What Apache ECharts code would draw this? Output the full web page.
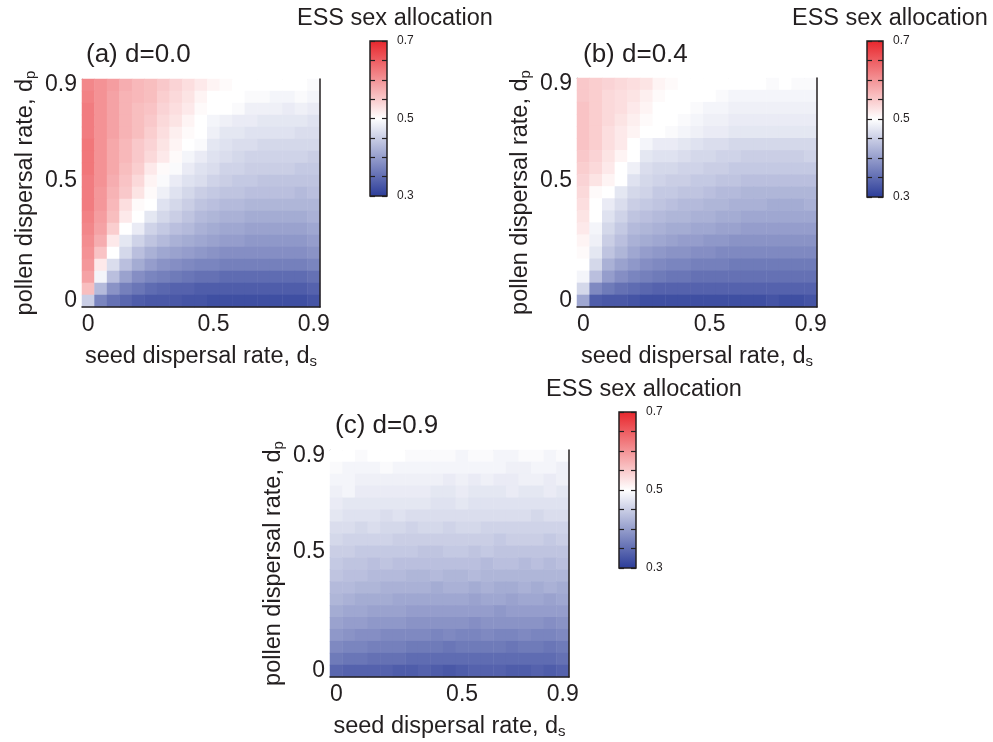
<!DOCTYPE html>
<html>
<head>
<meta charset="utf-8">
<title>ESS sex allocation</title>
<script src="https://cdn.jsdelivr.net/npm/echarts@6/dist/echarts.min.js"></script>
<style>
  html, body { margin: 0; padding: 0; background: #fff; }
  #chart { width: 993px; height: 742px; }
</style>
</head>
<body>
<div id="chart"></div>
<script>
// dispersal rates on both axes (seed ds on x, pollen dp on y)
var rates = ['0', '0.05', '0.1', '0.15', '0.2', '0.25', '0.3', '0.35', '0.4', '0.45',
             '0.5', '0.55', '0.6', '0.65', '0.7', '0.75', '0.8', '0.85', '0.9'];
var tickLabels = ['0', '0.5', '0.9'];
var barLabels = ['0.3', '0.5', '0.7'];
var panelTitles = ['(a) d=0.0', '(b) d=0.4', '(c) d=0.9'];

// ESS sex allocation; rows go from dp=0.9 (top) down to dp=0
var essD00 = [
  [0.61,0.60,0.59,0.575,0.565,0.56,0.55,0.54,0.53,0.52,0.51,0.505,0.50,0.50,0.50,0.50,0.50,0.50,0.495],
  [0.615,0.60,0.585,0.57,0.565,0.56,0.545,0.535,0.525,0.51,0.50,0.50,0.50,0.495,0.495,0.49,0.49,0.495,0.49],
  [0.62,0.60,0.585,0.57,0.56,0.555,0.54,0.53,0.52,0.505,0.50,0.50,0.495,0.485,0.485,0.485,0.48,0.485,0.48],
  [0.62,0.60,0.585,0.57,0.56,0.55,0.535,0.525,0.51,0.50,0.49,0.485,0.48,0.48,0.475,0.475,0.475,0.475,0.47],
  [0.62,0.60,0.585,0.57,0.56,0.545,0.53,0.515,0.505,0.50,0.485,0.475,0.475,0.47,0.47,0.47,0.47,0.465,0.465],
  [0.625,0.60,0.58,0.565,0.55,0.54,0.525,0.51,0.50,0.495,0.475,0.47,0.465,0.465,0.46,0.46,0.46,0.46,0.46],
  [0.625,0.60,0.58,0.565,0.55,0.535,0.52,0.505,0.49,0.48,0.47,0.465,0.46,0.455,0.455,0.455,0.455,0.455,0.45],
  [0.625,0.60,0.58,0.56,0.545,0.52,0.505,0.495,0.48,0.47,0.465,0.455,0.455,0.45,0.45,0.45,0.45,0.445,0.445],
  [0.62,0.60,0.575,0.555,0.535,0.51,0.495,0.48,0.47,0.465,0.455,0.45,0.445,0.445,0.44,0.44,0.44,0.44,0.44],
  [0.62,0.595,0.57,0.55,0.525,0.505,0.485,0.47,0.46,0.45,0.445,0.44,0.44,0.435,0.435,0.435,0.435,0.43,0.435],
  [0.62,0.595,0.565,0.53,0.505,0.50,0.47,0.46,0.45,0.44,0.435,0.43,0.43,0.425,0.425,0.425,0.425,0.425,0.425],
  [0.615,0.59,0.56,0.52,0.50,0.475,0.46,0.45,0.44,0.43,0.425,0.42,0.42,0.415,0.415,0.415,0.415,0.415,0.42],
  [0.61,0.585,0.545,0.50,0.48,0.455,0.445,0.435,0.43,0.42,0.415,0.41,0.41,0.405,0.405,0.405,0.405,0.405,0.41],
  [0.605,0.575,0.52,0.475,0.455,0.44,0.43,0.42,0.415,0.41,0.405,0.40,0.40,0.395,0.395,0.395,0.395,0.395,0.40],
  [0.60,0.555,0.50,0.46,0.435,0.42,0.41,0.405,0.40,0.395,0.39,0.385,0.385,0.385,0.385,0.385,0.385,0.385,0.39],
  [0.595,0.52,0.465,0.435,0.415,0.40,0.39,0.385,0.38,0.375,0.375,0.37,0.37,0.37,0.37,0.37,0.37,0.37,0.375],
  [0.585,0.49,0.435,0.405,0.385,0.375,0.37,0.365,0.36,0.355,0.355,0.35,0.35,0.35,0.35,0.35,0.35,0.35,0.355],
  [0.56,0.43,0.39,0.37,0.36,0.35,0.345,0.34,0.34,0.335,0.335,0.335,0.335,0.335,0.335,0.335,0.335,0.335,0.34],
  [0.45,0.375,0.355,0.345,0.335,0.33,0.33,0.33,0.325,0.325,0.32,0.32,0.32,0.32,0.32,0.32,0.32,0.32,0.325]
];

var essD04 = [
  [0.55,0.545,0.54,0.535,0.53,0.525,0.51,0.505,0.50,0.50,0.50,0.50,0.50,0.50,0.50,0.495,0.50,0.495,0.495],
  [0.55,0.545,0.535,0.53,0.525,0.515,0.505,0.50,0.50,0.50,0.50,0.495,0.49,0.49,0.49,0.49,0.49,0.49,0.49],
  [0.555,0.545,0.535,0.53,0.52,0.51,0.50,0.50,0.50,0.495,0.49,0.49,0.485,0.485,0.485,0.485,0.485,0.485,0.485],
  [0.555,0.545,0.535,0.525,0.515,0.505,0.50,0.50,0.495,0.49,0.485,0.485,0.48,0.48,0.48,0.48,0.48,0.48,0.48],
  [0.555,0.545,0.53,0.52,0.51,0.50,0.50,0.495,0.49,0.485,0.48,0.48,0.475,0.475,0.475,0.475,0.475,0.475,0.475],
  [0.555,0.545,0.53,0.52,0.50,0.49,0.48,0.48,0.475,0.47,0.465,0.465,0.46,0.46,0.46,0.46,0.46,0.46,0.46],
  [0.55,0.54,0.525,0.51,0.50,0.475,0.47,0.47,0.465,0.46,0.46,0.455,0.455,0.45,0.45,0.45,0.45,0.45,0.455],
  [0.545,0.535,0.52,0.50,0.485,0.465,0.46,0.46,0.455,0.455,0.45,0.45,0.445,0.445,0.445,0.445,0.445,0.445,0.445],
  [0.54,0.525,0.51,0.50,0.47,0.46,0.455,0.45,0.45,0.445,0.445,0.44,0.44,0.435,0.435,0.435,0.435,0.435,0.435],
  [0.535,0.505,0.50,0.475,0.46,0.455,0.445,0.445,0.44,0.44,0.435,0.43,0.43,0.425,0.425,0.425,0.425,0.425,0.425],
  [0.53,0.50,0.48,0.465,0.45,0.445,0.44,0.435,0.43,0.43,0.425,0.425,0.42,0.42,0.42,0.415,0.415,0.415,0.42],
  [0.525,0.50,0.47,0.455,0.44,0.435,0.43,0.425,0.425,0.42,0.42,0.415,0.415,0.41,0.41,0.41,0.41,0.41,0.41],
  [0.52,0.49,0.46,0.445,0.43,0.425,0.42,0.415,0.415,0.41,0.41,0.405,0.405,0.40,0.40,0.40,0.40,0.40,0.40],
  [0.51,0.485,0.45,0.435,0.42,0.415,0.41,0.405,0.40,0.40,0.395,0.395,0.39,0.39,0.39,0.39,0.39,0.39,0.39],
  [0.505,0.475,0.44,0.425,0.41,0.40,0.395,0.39,0.39,0.385,0.385,0.38,0.38,0.38,0.38,0.38,0.38,0.38,0.38],
  [0.50,0.46,0.42,0.405,0.395,0.385,0.38,0.375,0.375,0.37,0.37,0.37,0.365,0.365,0.365,0.365,0.365,0.365,0.365],
  [0.49,0.435,0.40,0.385,0.375,0.37,0.365,0.36,0.36,0.355,0.355,0.355,0.355,0.355,0.355,0.355,0.355,0.355,0.355],
  [0.46,0.38,0.365,0.355,0.35,0.345,0.34,0.34,0.34,0.34,0.34,0.34,0.34,0.34,0.34,0.34,0.34,0.34,0.34],
  [0.41,0.335,0.33,0.33,0.325,0.32,0.32,0.32,0.32,0.32,0.32,0.32,0.32,0.32,0.32,0.325,0.32,0.32,0.325]
];

var essD09 = [
  [0.50,0.50,0.495,0.50,0.50,0.50,0.495,0.495,0.495,0.495,0.49,0.495,0.495,0.49,0.49,0.495,0.495,0.49,0.495],
  [0.495,0.49,0.49,0.49,0.495,0.49,0.49,0.49,0.49,0.49,0.49,0.49,0.49,0.49,0.485,0.485,0.49,0.49,0.485],
  [0.49,0.49,0.485,0.485,0.485,0.485,0.485,0.485,0.485,0.48,0.485,0.48,0.485,0.48,0.48,0.485,0.485,0.48,0.485],
  [0.485,0.49,0.48,0.48,0.48,0.48,0.48,0.48,0.475,0.475,0.48,0.475,0.475,0.475,0.48,0.475,0.475,0.48,0.475],
  [0.48,0.475,0.475,0.475,0.475,0.475,0.475,0.475,0.47,0.47,0.475,0.47,0.47,0.47,0.47,0.47,0.47,0.47,0.47],
  [0.475,0.47,0.47,0.47,0.465,0.47,0.465,0.465,0.465,0.465,0.465,0.465,0.465,0.465,0.465,0.465,0.46,0.465,0.465],
  [0.465,0.465,0.46,0.465,0.46,0.46,0.455,0.46,0.46,0.455,0.46,0.46,0.455,0.455,0.455,0.455,0.455,0.455,0.455],
  [0.46,0.455,0.455,0.455,0.455,0.45,0.45,0.45,0.45,0.45,0.45,0.45,0.45,0.445,0.45,0.45,0.45,0.445,0.45],
  [0.45,0.45,0.445,0.445,0.445,0.445,0.445,0.44,0.44,0.445,0.445,0.44,0.445,0.44,0.44,0.44,0.44,0.44,0.44],
  [0.445,0.44,0.44,0.435,0.44,0.435,0.435,0.435,0.435,0.435,0.435,0.435,0.43,0.435,0.435,0.43,0.435,0.43,0.435],
  [0.44,0.435,0.435,0.43,0.43,0.43,0.425,0.425,0.43,0.425,0.425,0.43,0.425,0.425,0.425,0.425,0.425,0.425,0.425],
  [0.43,0.43,0.425,0.425,0.42,0.42,0.42,0.42,0.415,0.42,0.42,0.415,0.42,0.415,0.415,0.42,0.415,0.42,0.415],
  [0.425,0.42,0.415,0.415,0.415,0.41,0.41,0.41,0.41,0.41,0.41,0.405,0.41,0.41,0.405,0.41,0.41,0.405,0.41],
  [0.415,0.41,0.41,0.405,0.405,0.405,0.40,0.40,0.40,0.40,0.40,0.40,0.40,0.395,0.40,0.40,0.40,0.40,0.40],
  [0.405,0.40,0.40,0.395,0.395,0.395,0.39,0.39,0.39,0.39,0.39,0.385,0.39,0.39,0.39,0.39,0.39,0.385,0.39],
  [0.395,0.39,0.385,0.385,0.38,0.38,0.38,0.38,0.375,0.38,0.375,0.375,0.38,0.375,0.375,0.38,0.375,0.375,0.38],
  [0.38,0.375,0.375,0.37,0.37,0.37,0.365,0.365,0.365,0.36,0.365,0.365,0.365,0.365,0.36,0.365,0.365,0.36,0.365],
  [0.365,0.36,0.36,0.355,0.355,0.355,0.35,0.35,0.35,0.35,0.35,0.35,0.35,0.35,0.35,0.35,0.35,0.35,0.355],
  [0.345,0.34,0.34,0.34,0.34,0.335,0.335,0.34,0.335,0.33,0.335,0.34,0.34,0.34,0.335,0.335,0.34,0.335,0.34]
];

var ink = '#231f20';
var font = '"Liberation Sans", Arial, Helvetica, sans-serif';
var rampColors = ['#2a3b98', '#ffffff', '#e8252b'];

// pixel layout of the three panels
var panels = [
  { ess: essD00, title: panelTitles[0], grid: [82, 79, 238, 228], head: [86, 42], bar: [370, 41, 17, 155], barHead: [297, 7] },
  { ess: essD04, title: panelTitles[1], grid: [577, 78, 240, 229], head: [583, 42], bar: [867, 41, 16, 156], barHead: [792, 7] },
  { ess: essD09, title: panelTitles[2], grid: [330, 450, 239, 227], head: [335, 413], bar: [619, 412, 17, 156], barHead: [546, 378] }
];

var option = {
  animation: false,
  backgroundColor: '#fff',
  textStyle: { fontFamily: font, color: ink },
  title: [], grid: [], xAxis: [], yAxis: [], visualMap: [], series: []
};

function nameRich(main, sub) {
  return {
    name: '{m|' + main + '}{s|' + sub + '}',
    nameTextStyle: { rich: {
      m: { fontSize: 23.5, color: ink, fontFamily: font },
      s: { fontSize: 15, color: ink, fontFamily: font, verticalAlign: 'bottom' }
    } }
  };
}

function showTick(i) { return tickLabels.indexOf(rates[i]) >= 0; }

function edgeAxis(gi, pos, color, width, extra) {
  var a = {
    gridIndex: gi, position: pos, type: 'category', data: rates,
    axisLine: { show: true, lineStyle: { color: color, width: width } },
    axisTick: { show: false }, axisLabel: { show: false }, splitLine: { show: false }
  };
  return Object.assign(a, extra || {});
}

panels.forEach(function (p, i) {
  // heatmap grid
  var gi = option.grid.length;
  option.grid.push({ left: p.grid[0], top: p.grid[1], width: p.grid[2], height: p.grid[3] });

  var xi = option.xAxis.length;
  option.xAxis.push(edgeAxis(gi, 'bottom', ink, 1.5, Object.assign({
    axisLabel: { show: true, interval: showTick, fontSize: 23, color: ink, margin: 6 },
    nameLocation: 'middle', nameGap: 38, z: 6
  }, nameRich('seed dispersal rate, d', 's'))));
  option.xAxis.push(edgeAxis(gi, 'top', '#c4c4c4', 1));

  var yi = option.yAxis.length;
  option.yAxis.push(edgeAxis(gi, 'left', '#b8b8b8', 1, Object.assign({
    axisLabel: { show: true, interval: showTick, fontSize: 23, color: ink, margin: 5 },
    nameLocation: 'middle', nameGap: 44, nameRotate: 90
  }, nameRich('pollen dispersal rate, d', 'p'))));
  option.yAxis.push(edgeAxis(gi, 'right', ink, 1.5, { z: 6 }));

  var cells = [];
  p.ess.forEach(function (row, r) {
    row.forEach(function (v, c) { cells.push([c, rates.length - 1 - r, v]); });
  });
  option.series.push({
    type: 'heatmap', xAxisIndex: xi, yAxisIndex: yi, data: cells,
    itemStyle: { borderWidth: 0 }, emphasis: { disabled: true }, silent: true
  });

  option.title.push({
    text: p.title, left: p.head[0], top: p.head[1], padding: 0,
    textStyle: { fontSize: 26, fontWeight: 'normal', color: ink, fontFamily: font }
  });
  option.title.push({
    text: 'ESS sex allocation', left: p.barHead[0], top: p.barHead[1], padding: 0,
    textStyle: { fontSize: 23.5, fontWeight: 'normal', color: ink, fontFamily: font }
  });

  // colour mapping for the cells (bar itself is drawn as the grid below)
  option.visualMap.push({
    type: 'continuous', seriesIndex: i, min: 0.3, max: 0.7, show: false,
    inRange: { color: rampColors }
  });

  var bi = option.grid.length;
  option.grid.push({
    left: p.bar[0], top: p.bar[1], width: p.bar[2], height: p.bar[3],
    show: true, borderColor: ink, borderWidth: 1.5,
    backgroundColor: new echarts.graphic.LinearGradient(0, 1, 0, 0, [
      { offset: 0, color: rampColors[0] },
      { offset: 0.5, color: rampColors[1] },
      { offset: 1, color: rampColors[2] }
    ])
  });
  option.xAxis.push({ gridIndex: bi, type: 'value', min: 0, max: 1, show: false });
  var barY = { gridIndex: bi, type: 'value', min: 30, max: 70, interval: 5, z: 10,
    axisLine: { show: false },
    axisTick: { show: true, inside: true, length: 5, lineStyle: { color: ink, width: 1.2 } },
    splitLine: { show: false } };
  option.yAxis.push(Object.assign({ position: 'left', axisLabel: { show: false } }, barY));
  option.yAxis.push(Object.assign({ position: 'right', axisLabel: {
    show: true, fontSize: 12, color: ink, margin: 10, padding: [6, 0, 0, 0],
    formatter: function (v) {
      var s = String(v / 100);
      return barLabels.indexOf(s) >= 0 ? s : '';
    }
  } }, barY));
});

var chart = echarts.init(document.getElementById('chart'));
chart.setOption(option);
</script>
</body>
</html>
